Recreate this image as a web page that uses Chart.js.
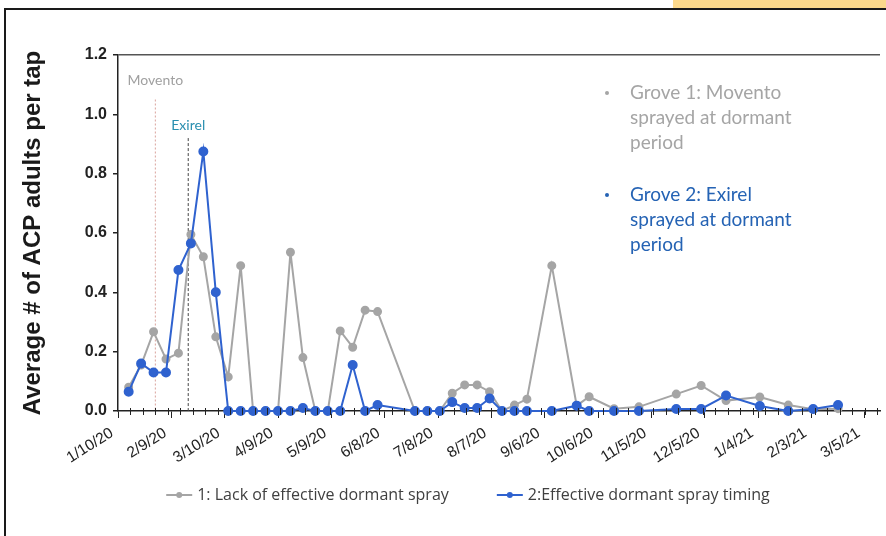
<!DOCTYPE html>
<html>
<head>
<meta charset="utf-8">
<title>ACP adults per tap</title>
<script src="https://cdn.jsdelivr.net/npm/chart.js@4/dist/chart.umd.min.js"></script>
<style>
  html, body { margin: 0; padding: 0; background: #fff; overflow: hidden; }
  canvas { display: block; }
</style>
</head>
<body>
<canvas id="grafico" width="886" height="536"></canvas>
<script>
// days after 1/10/20 of each tap sample
const SAMPLE_DAY = [6, 13, 20, 27, 34, 41, 48, 55, 62, 69, 76, 83, 90, 97, 104, 111, 118, 125, 132, 139, 146,
  167, 174, 181, 188, 195, 202, 209, 216, 223, 230, 244, 258, 265, 279, 293, 314, 328, 342, 361, 377, 391, 405];
const GROVE_1 = [0.08, 0.155, 0.267, 0.175, 0.195, 0.595, 0.52, 0.25, 0.115, 0.49, 0, 0, 0, 0.535, 0.18, 0, 0, 0.27, 0.215, 0.34, 0.335,
  0, 0, 0, 0.06, 0.088, 0.088, 0.065, 0, 0.02, 0.04, 0.49, 0.018, 0.048, 0.008, 0.014, 0.057, 0.086, 0.035, 0.047, 0.02, 0.006, 0.008];
const GROVE_2 = [0.065, 0.16, 0.13, 0.13, 0.475, 0.565, 0.875, 0.40, 0, 0, 0, 0, 0, 0, 0.01, 0, 0, 0, 0.155, 0, 0.02,
  0, 0, 0, 0.03, 0.01, 0.01, 0.042, 0, 0, 0, 0, 0.018, 0, 0, 0, 0.007, 0.007, 0.052, 0.017, 0, 0.007, 0.02];
const TICK_DAYS = [0, 30, 60, 90, 120, 150, 180, 210, 240, 270, 300, 330, 360, 390, 420];
const TICK_LABELS = ['1/10/20', '2/9/20', '3/10/20', '4/9/20', '5/9/20', '6/8/20', '7/8/20', '8/7/20',
  '9/6/20', '10/6/20', '11/5/20', '12/5/20', '1/4/21', '2/3/21', '3/5/21'];
const MOVENTO_DAY = 21;
const EXIREL_DAY = 39.5;
const NOTES = [
  ['Grove 1: Movento', 'sprayed at dormant', 'period'],
  ['Grove 2: Exirel', 'sprayed at dormant', 'period']
];

(() => {
  const CINZA = '#a5a5a5';
  const AZUL = '#2f62cf';
  const SANS = "'Liberation Sans', Arial, sans-serif";
  const TEXTO = "Lato, 'Open Sans', sans-serif";

  const pontos = serie => SAMPLE_DAY.map((d, i) => ({ x: d, y: serie[i] }));

  const decoracao = {
    id: 'decoracao',
    beforeDraw(chart) {
      const { ctx, width, height } = chart;
      ctx.save();
      ctx.fillStyle = '#fff';
      ctx.fillRect(0, 0, width, height);
      ctx.fillStyle = '#fcd98c';
      ctx.fillRect(673, 0, width - 673, 8);
      ctx.strokeStyle = '#1a1a1a';
      ctx.lineWidth = 2;
      ctx.strokeRect(5, 9, width + 20, height + 20);
      ctx.restore();
    },
    beforeDatasetsDraw(chart) {
      // linhas das pulverizacoes
      const { ctx, scales: { x, y } } = chart;
      const linha = (dia, topo, cor, dash) => {
        const px = x.getPixelForValue(dia);
        ctx.beginPath();
        ctx.strokeStyle = cor;
        ctx.lineWidth = 1;
        ctx.setLineDash(dash);
        ctx.moveTo(px, y.getPixelForValue(topo));
        ctx.lineTo(px, y.bottom);
        ctx.stroke();
      };
      ctx.save();
      linha(MOVENTO_DAY, 1.05, '#d9a39c', [2, 2]);
      linha(EXIREL_DAY, 0.92, '#444', [3, 2]);
      ctx.setLineDash([]);
      ctx.font = `14px ${TEXTO}`;
      ctx.textAlign = 'center';
      ctx.textBaseline = 'middle';
      ctx.fillStyle = '#a0a0a0';
      ctx.fillText('Movento', x.getPixelForValue(MOVENTO_DAY), y.getPixelForValue(1.115));
      ctx.fillStyle = '#2a8fb0';
      ctx.fillText('Exirel', x.getPixelForValue(EXIREL_DAY), y.getPixelForValue(0.962));
      ctx.restore();
    },
    afterDraw(chart) {
      const { ctx, scales: { x } } = chart;
      ctx.save();

      // ticks menores do eixo x (semanais)
      ctx.strokeStyle = '#222';
      ctx.lineWidth = 1;
      for (let d = 7; d <= x.max; d += 7) {
        const px = Math.round(x.getPixelForValue(d)) + 0.5;
        ctx.beginPath();
        ctx.moveTo(px, x.top - 3);
        ctx.lineTo(px, x.top + 4);
        ctx.stroke();
      }

      // caixa de texto lateral
      const cores = [CINZA, '#2563b4'];
      ctx.font = `19px ${TEXTO}`;
      ctx.textBaseline = 'middle';
      NOTES.forEach((linhas, g) => {
        const y0 = 93 + g * 102;
        ctx.fillStyle = cores[g];
        ctx.beginPath();
        ctx.arc(607, y0, 2, 0, Math.PI * 2);
        ctx.fill();
        linhas.forEach((t, i) => ctx.fillText(t, 630, y0 + i * 25));
      });

      // legenda
      ctx.font = "16px 'Open Sans', Lato, sans-serif";
      const itens = chart.data.datasets.map(ds => ({ label: ds.label, cor: ds.borderColor }));
      const larg = itens.map(it => ctx.measureText(it.label).width);
      const total = larg.reduce((s, w) => s + 31 + w, 0) + 48 * (itens.length - 1);
      let cx = 468 - total / 2;
      const cy = 495;
      itens.forEach((it, i) => {
        ctx.strokeStyle = it.cor;
        ctx.fillStyle = it.cor;
        ctx.lineWidth = 2;
        ctx.beginPath();
        ctx.moveTo(cx, cy);
        ctx.lineTo(cx + 26, cy);
        ctx.stroke();
        ctx.beginPath();
        ctx.arc(cx + 13, cy, 3, 0, Math.PI * 2);
        ctx.fill();
        ctx.fillStyle = '#404040';
        ctx.fillText(it.label, cx + 31, cy);
        cx += 31 + larg[i] + 48;
      });
      ctx.restore();
    }
  };

  new Chart(document.getElementById('grafico'), {
    type: 'line',
    data: {
      datasets: [
        {
          label: '1: Lack of effective dormant spray',
          data: pontos(GROVE_1),
          borderColor: CINZA, backgroundColor: CINZA,
          pointBorderColor: CINZA, pointBackgroundColor: CINZA,
          borderWidth: 2, pointRadius: 3.5, tension: 0, clip: false, order: 2
        },
        {
          label: '2:Effective dormant spray timing',
          data: pontos(GROVE_2),
          borderColor: AZUL, backgroundColor: AZUL,
          pointBorderColor: AZUL, pointBackgroundColor: AZUL,
          borderWidth: 2, pointRadius: 4, tension: 0, clip: false, order: 1
        }
      ]
    },
    options: {
      responsive: false,
      animation: false,
      devicePixelRatio: 1,
      layout: { padding: { left: 0, top: 55, right: 6, bottom: 0 } },
      plugins: { legend: { display: false }, tooltip: { enabled: false } },
      scales: {
        x: {
          type: 'linear',
          min: 0,
          max: 428.6,
          afterBuildTicks: s => { s.ticks = TICK_DAYS.map(v => ({ value: v })); },
          afterFit: s => { s.height = 125; s.paddingLeft = 0; s.paddingRight = 0; },
          ticks: {
            autoSkip: false,
            minRotation: 32,
            maxRotation: 32,
            padding: 6,
            labelOffset: -6,
            color: '#222',
            font: { family: SANS, size: 15.5 },
            callback: (v, i) => TICK_LABELS[i]
          },
          grid: { drawOnChartArea: false, tickLength: 7, color: '#222', tickColor: '#222' },
          border: { color: '#222', width: 1.5 }
        },
        y: {
          min: 0,
          max: 1.2,
          afterFit: s => { s.width = 118; },
          ticks: {
            stepSize: 0.2,
            padding: 6,
            color: '#222',
            font: { family: SANS, size: 16, weight: 'bold' },
            callback: v => v.toFixed(1)
          },
          grid: {
            tickLength: 5,
            tickColor: '#222',
            color: c => (c.tick && c.tick.value > 1.19 ? '#555' : 'rgba(0,0,0,0)'),
            lineWidth: 1.5
          },
          border: { color: '#222', width: 1.5 },
          title: {
            display: true,
            text: 'Average # of ACP adults per tap',
            color: '#1a1a1a',
            font: { family: SANS, size: 24, weight: 'bold' },
            padding: { top: 19, bottom: 0 }
          }
        }
      }
    },
    plugins: [decoracao]
  });
})();
</script>
</body>
</html>
